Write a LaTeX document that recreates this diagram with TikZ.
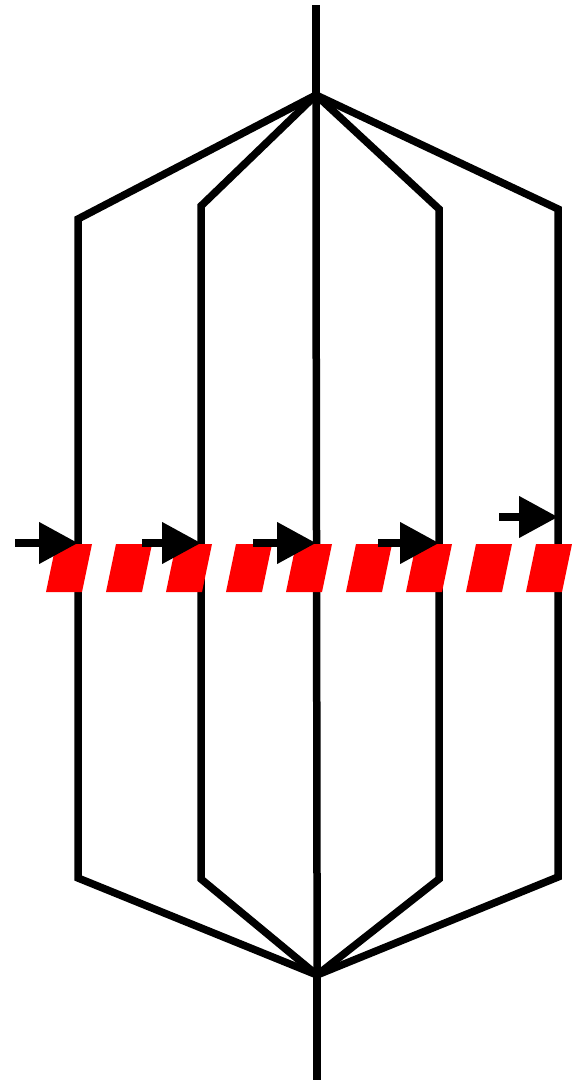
\documentclass[tikz,border=0pt]{standalone}
\usepackage{tikz}
\usetikzlibrary{arrows.meta}
\definecolor{cutred}{HTML}{FF0000}

\begin{document}
\begin{tikzpicture}[x=1pt,y=-1pt,
    wire/.style={line width=7.5pt},
    flow/.style={line width=7.5pt,-{Triangle[length=39pt,width=40pt]}}]
    \useasboundingbox (0,0) rectangle (572,1084);
    % the two vertices and the free ends
    \coordinate (in) at (316,5);
    \coordinate (top) at (316,95);
    \coordinate (bot) at (317,975);
    \coordinate (out) at (317,1080);
    % the five branches
    \coordinate (a1) at (78,219);  \coordinate (a2) at (78,878);
    \coordinate (b1) at (201,206); \coordinate (b2) at (201,879);
    \coordinate (c1) at (316,190); \coordinate (c2) at (317,876);
    \coordinate (d1) at (439,209); \coordinate (d2) at (439,879);
    \coordinate (e1) at (558,209); \coordinate (e2) at (558,877);
    \draw[wire] (in)--(top);
    \foreach \br in {a,b,c,d,e}{\draw[wire] (top)--(\br1)--(\br2)--(bot);}
    \draw[wire] (bot)--(out);
    % the cut
    \foreach \x in {46,106,...,526}{\fill[cutred] (\x,592)--++(36,0)--++(10,-48)--++(-36,0)--cycle;}
    % arrows onto the branches
    \coordinate (s1) at (15,543);
    \coordinate (s2) at (142,543);
    \coordinate (s3) at (253,543);
    \coordinate (s4) at (378,543);
    \coordinate (s5) at (499,517);
    \draw[flow] (s1)--(s1 -| a1);
    \draw[flow] (s2)--(s2 -| b1);
    \draw[flow] (s3)--(s3 -| top);
    \draw[flow] (s4)--(s4 -| d1);
    \draw[flow] (s5)--(s5 -| e1);
\end{tikzpicture}
\end{document}
